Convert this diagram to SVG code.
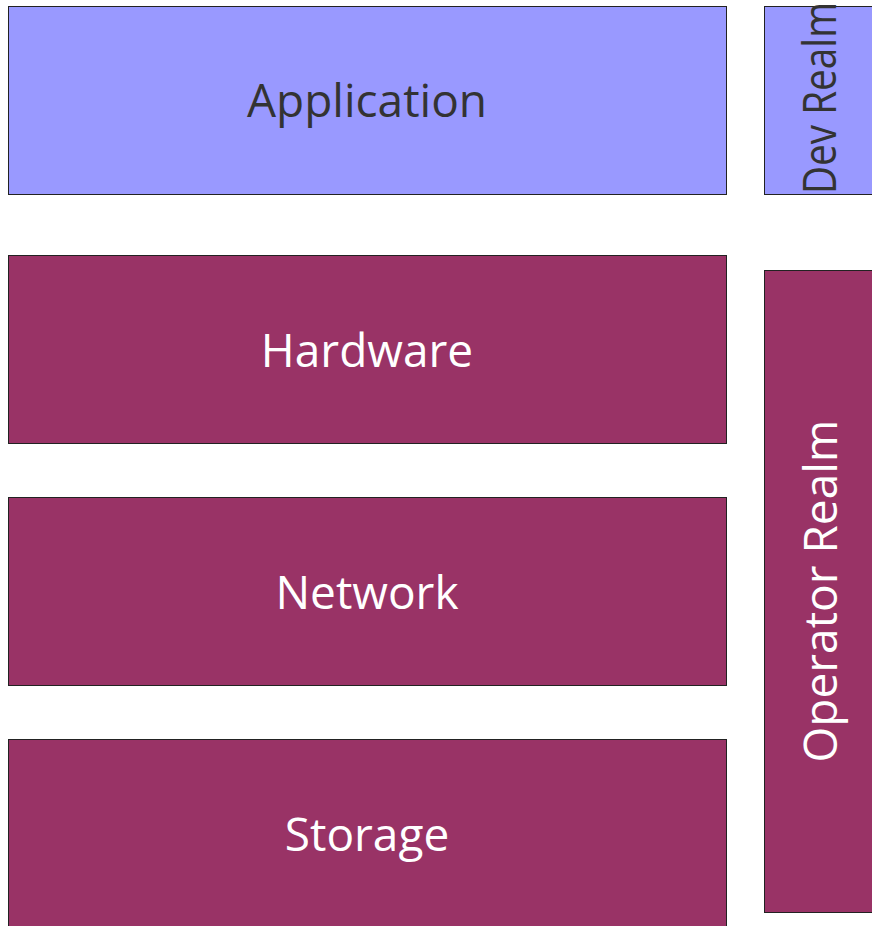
<svg xmlns="http://www.w3.org/2000/svg" width="872" height="926" viewBox="0 0 872 926">
  <style>
    .dev { fill: #9999ff; stroke: #222222; stroke-width: 1; }
    .ops { fill: #993366; stroke: #222222; stroke-width: 1; }
    .lbl { font-family: "Open Sans", "Noto Sans", sans-serif; font-size: 46px; }
    .dark { fill: #333333; }
    .light { fill: #ffffff; }
  </style>
  <rect width="872" height="926" fill="#ffffff"/>
  <g id="application">
    <rect class="dev" x="8.5" y="6.5" width="718" height="188"/>
    <text class="lbl dark" x="367" y="117" text-anchor="middle">Application</text>
  </g>
  <g id="dev-realm">
    <rect class="dev" x="764.5" y="6.5" width="120" height="188"/>
    <text class="lbl dark" transform="translate(836 194) rotate(-90)" x="0" y="0" textLength="192" lengthAdjust="spacingAndGlyphs">Dev Realm</text>
  </g>
  <g id="hardware">
    <rect class="ops" x="8.5" y="255.5" width="718" height="188"/>
    <text class="lbl light" x="367" y="367" text-anchor="middle">Hardware</text>
  </g>
  <g id="network">
    <rect class="ops" x="8.5" y="497.5" width="718" height="188"/>
    <text class="lbl light" x="367" y="609" text-anchor="middle">Network</text>
  </g>
  <g id="storage">
    <rect class="ops" x="8.5" y="739.5" width="718" height="200"/>
    <text class="lbl light" x="367" y="851" text-anchor="middle">Storage</text>
  </g>
  <g id="operator-realm">
    <rect class="ops" x="764.5" y="270.5" width="120" height="642"/>
    <text class="lbl light" transform="translate(837 591) rotate(-90)" x="0" y="0" text-anchor="middle">Operator Realm</text>
  </g>
  <g id="connectors"/>
</svg>
